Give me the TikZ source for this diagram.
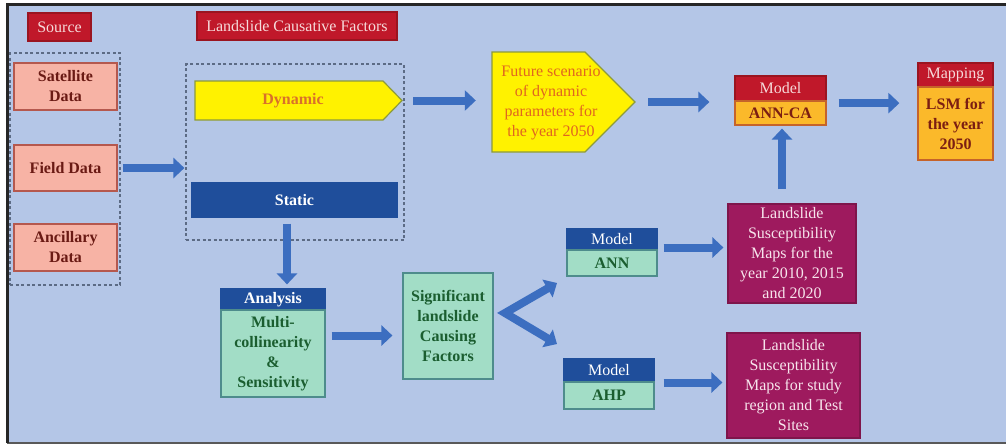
\documentclass[tikz,border=0pt]{standalone}
\usepackage{fontspec}
\setmainfont{Liberation Serif}
\usetikzlibrary{arrows.meta,calc}
\definecolor{bg}{HTML}{B4C6E7}
\definecolor{redh}{HTML}{C0182A}
\definecolor{redd}{HTML}{9A1420}
\definecolor{redtxt}{HTML}{F6DADA}
\definecolor{pinkfill}{HTML}{F7B3A5}
\definecolor{pinkdraw}{HTML}{B5584E}
\definecolor{pinktxt}{HTML}{6A1A14}
\definecolor{yel}{HTML}{FFF200}
\definecolor{yeldraw}{HTML}{8C9A3C}
\definecolor{yeltxt}{HTML}{E0661F}
\definecolor{dyntxt}{HTML}{D9702A}
\definecolor{dblue}{HTML}{1F4E9B}
\definecolor{grn}{HTML}{A2DDC6}
\definecolor{grndraw}{HTML}{4E8C8C}
\definecolor{grntxt}{HTML}{1B5E30}
\definecolor{mag}{HTML}{9E1A5E}
\definecolor{magtxt}{HTML}{F7E4EC}
\definecolor{org}{HTML}{FBB92A}
\definecolor{orgdraw}{HTML}{C5632A}
\definecolor{orgtxt}{HTML}{7B1E12}
\definecolor{arrc}{HTML}{3C6EC0}
\definecolor{dashc}{HTML}{5C6B85}
\newcommand\myfs{\fontsize{16}{20}\selectfont}
\tikzset{
 box/.style={rectangle, inner sep=0pt, align=center, line width=1.2pt, font=\myfs},
 redbox/.style={box, fill=redh, draw=redd, text=redtxt},
 pinkbox/.style={box, fill=pinkfill, draw=pinkdraw, text=pinktxt, font=\myfs\bfseries},
 bluebox/.style={box, fill=dblue, draw=dblue, text=white},
 grnbox/.style={box, fill=grn, draw=grndraw, text=grntxt, font=\myfs\bfseries},
 magbox/.style={box, fill=mag, draw=mag!80!black, text=magtxt},
 orgbox/.style={box, fill=org, draw=orgdraw, text=orgtxt, font=\myfs\bfseries},
 yelshape/.style={fill=yel, draw=yeldraw, line width=1.2pt},
 dashbox/.style={rectangle, draw=dashc, line width=1.2pt, dash pattern=on 3pt off 2.5pt},
 arr/.style={draw=arrc, line width=8pt, -{Triangle[width=20pt,length=11pt]}},
 varr/.style={draw=arrc, line width=8pt, line join=miter, {Triangle[width=20pt,length=11pt]}-{Triangle[width=20pt,length=11pt]}},
}
\begin{document}
\begin{tikzpicture}[x=1pt,y=-1pt]
\useasboundingbox (0,0) rectangle (1006,445);
\fill[white] (0,0) rectangle (1006,445);
\fill[bg] (7,4) rectangle (1006,443);
\draw[line width=1.5pt, gray!70!black] (7,443) -- (1006,443);
\draw[line width=3pt, black!85] (1006,4) -- (7,4) -- (7,443);

% titles
\node[redbox, minimum width=63, minimum height=28] (src) at (59.5,27) {Source};
\node[redbox, minimum width=200, minimum height=28] (lcf) at (297,26) {Landslide Causative Factors};

% sources
\node[dashbox, minimum width=110, minimum height=232] (srcd) at (65,169) {};
\node[pinkbox, minimum width=103, minimum height=47] (sat) at (65.5,86.5) {Satellite\\Data};
\node[pinkbox, minimum width=103, minimum height=46] (field) at (65.5,168) {Field Data};
\node[pinkbox, minimum width=103, minimum height=47] (anc) at (65.5,247.5) {Ancillary\\Data};

% factors
\node[dashbox, minimum width=218, minimum height=176] (facd) at (295,152) {};
\node[inner sep=0pt, minimum width=207, minimum height=39] (dyn) at (298.5,100.5) {};
\draw[yelshape] (195,81) -- (383,81) -- (402,100.5) -- (383,120) -- (195,120) -- cycle;
\node[text=dyntxt, font=\myfs\bfseries] (dyntxt) at (293,101) {Dynamic};
\node[bluebox, font=\myfs\bfseries, minimum width=205, minimum height=34] (static) at (294.5,200) {Static};

% analysis
\node[bluebox, font=\myfs\bfseries, minimum width=104, minimum height=21] (anh) at (273,299.5) {Analysis};
\node[grnbox, minimum width=104, minimum height=87] (an) at (273,353.5) {Multi-\\collinearity\\\&\\Sensitivity};

% significant
\node[grnbox, minimum width=90, minimum height=106] (sig) at (448,326) {Significant\\landslide\\Causing\\Factors};

% models
\node[bluebox, minimum width=90, minimum height=21] (annh) at (612,239.5) {Model};
\node[grnbox, minimum width=90, minimum height=26] (ann) at (612,263) {ANN};
\node[bluebox, minimum width=90, minimum height=23] (ahph) at (609,370.5) {Model};
\node[grnbox, minimum width=90, minimum height=27] (ahp) at (609,395.5) {AHP};

% maps
\node[magbox, minimum width=128, minimum height=99] (maps1) at (792,253.5) {Landslide\\Susceptibility\\Maps for the\\year 2010, 2015\\and 2020};
\node[magbox, minimum width=133, minimum height=105] (maps2) at (793.5,385.5) {Landslide\\Susceptibility\\Maps for study\\region and Test\\Sites};

% future
\node[inner sep=0pt, minimum width=143, minimum height=100] (fut) at (563.5,102) {};
\draw[yelshape] (492,52) -- (585,52) -- (635,102) -- (585,152) -- (492,152) -- cycle;
\node[text=yeltxt, font=\myfs, align=center] (futtxt) at (551,103) {Future scenario\\of dynamic\\parameters for\\the year 2050};

% ANN-CA
\node[redbox, minimum width=91, minimum height=25] (ancah) at (780.5,88.5) {Model};
\node[orgbox, minimum width=91, minimum height=24] (anca) at (780.5,113) {ANN-CA};

% mapping
\node[redbox, minimum width=75, minimum height=24] (maph) at (955.5,75) {Mapping};
\node[orgbox, minimum width=75, minimum height=73] (map) at (955.5,123.5) {LSM for\\the year\\2050};

% connectors
\draw[arr, shorten <=5pt, shorten >=1pt] (field.east) -- (field.east -| facd.west);
\draw[arr, shorten <=11pt, shorten >=16pt] (dyn.east) -- (dyn.east -| fut.west);
\draw[arr, shorten <=13pt, shorten >=25pt] (fut.east) -- (fut.east -| anca.west);
\draw[arr, shorten <=12pt, shorten >=18pt] ([yshift=-1.5pt]ancah.south east) -- ([yshift=-1.5pt]ancah.south east -| map.west);
\draw[arr, shorten <=6pt, shorten >=4pt] ([xshift=-7.5pt]static.south) -- ([xshift=-7.5pt]static.south |- anh.north);
\draw[arr, shorten <=6pt, shorten >=10pt] ([yshift=18pt]an.east) -- ([yshift=18pt]an.east -| sig.west);
\coordinate (v) at (505,313);
\coordinate (vu) at (557,283);
\coordinate (vd) at (557,344);
\draw[varr] (vu) -- (v) -- (vd);
\draw[arr, shorten <=6pt, shorten >=4pt] ([yshift=-8pt]annh.east) -- ([yshift=-8pt]annh.east -| maps1.west);
\draw[arr, shorten <=9pt, shorten >=4pt] ([yshift=-12pt]ahph.east) -- ([yshift=-12pt]ahph.east -| maps2.west);
\draw[arr, shorten <=14pt, shorten >=3pt] ([xshift=1.5pt]anca.south |- maps1.north) -- ([xshift=1.5pt]anca.south);
\end{tikzpicture}
\end{document}
